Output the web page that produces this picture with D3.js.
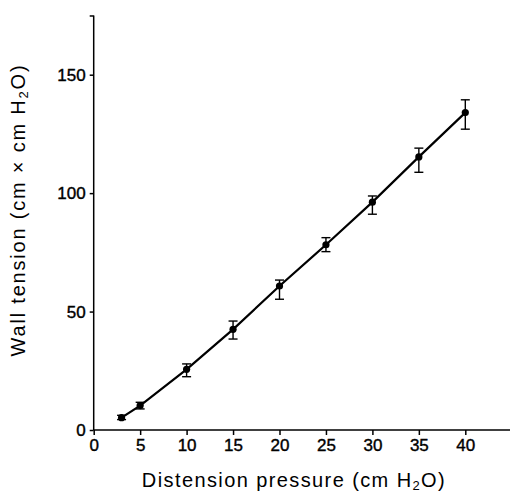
<!DOCTYPE html>
<html>
<head>
<meta charset="utf-8">
<script src="https://cdn.jsdelivr.net/npm/d3@7"></script>
<style>
  body { margin: 0; background: #fff; }
  svg { display: block; font-family: "Liberation Sans", Arial, sans-serif; }
</style>
</head>
<body>
<svg id="chart" width="512" height="492"></svg>
<script>
// distension pressure (cm H2O) vs wall tension
var pressure = [3, 5, 10, 15, 20, 25, 30, 35, 40];
var tension  = [5.2, 10.3, 25.6, 42.5, 60.8, 78.2, 96.2, 115.3, 134];
var errHigh  = [6.2, 11.7, 27.9, 46, 63.3, 81.2, 98.8, 119, 139.4];
var errLow   = [4.4, 8.9, 22.5, 38.4, 55.2, 75.3, 91.1, 108.8, 127];
var xTicks = [0, 5, 10, 15, 20, 25, 30, 35, 40];
var yTicks = [0, 50, 100, 150];

var svg = d3.select("#chart");

var x = d3.scaleLinear().domain([0, 40]).range([93.7, 465.3]);
var y = d3.scaleLinear().domain([0, 150]).range([430, 74.7]);

var data = pressure.map(function(p, i) {
    return { p: p, t: tension[i], hi: errHigh[i], lo: errLow[i] };
});

// axes
var xAxis = svg.append("g")
    .attr("transform", "translate(0,430)")
    .call(d3.axisBottom(x).tickValues(xTicks).tickSize(5).tickPadding(4).tickSizeOuter(0));
xAxis.select(".domain").attr("d", "M" + x(0) + ",0H510");

var yAxis = svg.append("g")
    .attr("transform", "translate(" + x(0) + ",0)")
    .call(d3.axisLeft(y).tickValues(yTicks.concat([175])).tickSize(4).tickPadding(4).tickSizeOuter(0)
        .tickFormat(function(d) { return d == 175 ? "" : d; }));
yAxis.select(".domain").attr("d", "M0," + y(175) + "V430");

svg.selectAll(".domain, .tick line")
    .attr("stroke", "#000")
    .attr("stroke-width", 1.5);
svg.selectAll(".tick text")
    .attr("fill", "#000")
    .style("font-size", "17px")
    .style("font-family", "'Liberation Sans', Arial, sans-serif")
    .attr("stroke", "#000")
    .attr("stroke-width", 0.4);

// line
var line = d3.line()
    .x(function(d) { return x(d.p); })
    .y(function(d) { return y(d.t); });

svg.append("path")
    .datum(data)
    .attr("fill", "none")
    .attr("stroke", "#000")
    .attr("stroke-width", 2.2)
    .attr("d", line);

// error bars
var eb = svg.selectAll(".err")
    .data(data)
    .enter()
    .append("g")
    .attr("class", "err")
    .attr("stroke", "#000")
    .attr("stroke-width", 1.4);

eb.append("line")
    .attr("x1", function(d) { return x(d.p); })
    .attr("x2", function(d) { return x(d.p); })
    .attr("y1", function(d) { return y(d.hi); })
    .attr("y2", function(d) { return y(d.lo); });
eb.append("line")
    .attr("x1", function(d) { return x(d.p) - 4.5; })
    .attr("x2", function(d) { return x(d.p) + 4.5; })
    .attr("y1", function(d) { return y(d.hi); })
    .attr("y2", function(d) { return y(d.hi); });
eb.append("line")
    .attr("x1", function(d) { return x(d.p) - 4.5; })
    .attr("x2", function(d) { return x(d.p) + 4.5; })
    .attr("y1", function(d) { return y(d.lo); })
    .attr("y2", function(d) { return y(d.lo); });

svg.selectAll(".dot")
    .data(data)
    .enter()
    .append("circle")
    .attr("class", "dot")
    .attr("cx", function(d) { return x(d.p); })
    .attr("cy", function(d) { return y(d.t); })
    .attr("r", 3.6)
    .attr("fill", "#000");

// axis titles
var xt = svg.append("text")
    .attr("x", 294)
    .attr("y", 487)
    .attr("text-anchor", "middle")
    .style("font-size", "20px")
    .style("letter-spacing", "1.4px")
    .attr("fill", "#000");
xt.append("tspan").text("Distension pressure (cm H");
xt.append("tspan").attr("dy", 3).style("font-size", "13px").text("2");
xt.append("tspan").attr("dy", -3).text("O)");

var yt = svg.append("text")
    .attr("transform", "translate(25,210) rotate(-90)")
    .attr("text-anchor", "middle")
    .style("font-size", "20px")
    .style("letter-spacing", "1.8px")
    .attr("fill", "#000");
yt.append("tspan").text("Wall tension (cm \u00d7 cm H");
yt.append("tspan").attr("dy", 3).style("font-size", "13px").text("2");
yt.append("tspan").attr("dy", -3).text("O)");
</script>
</body>
</html>
